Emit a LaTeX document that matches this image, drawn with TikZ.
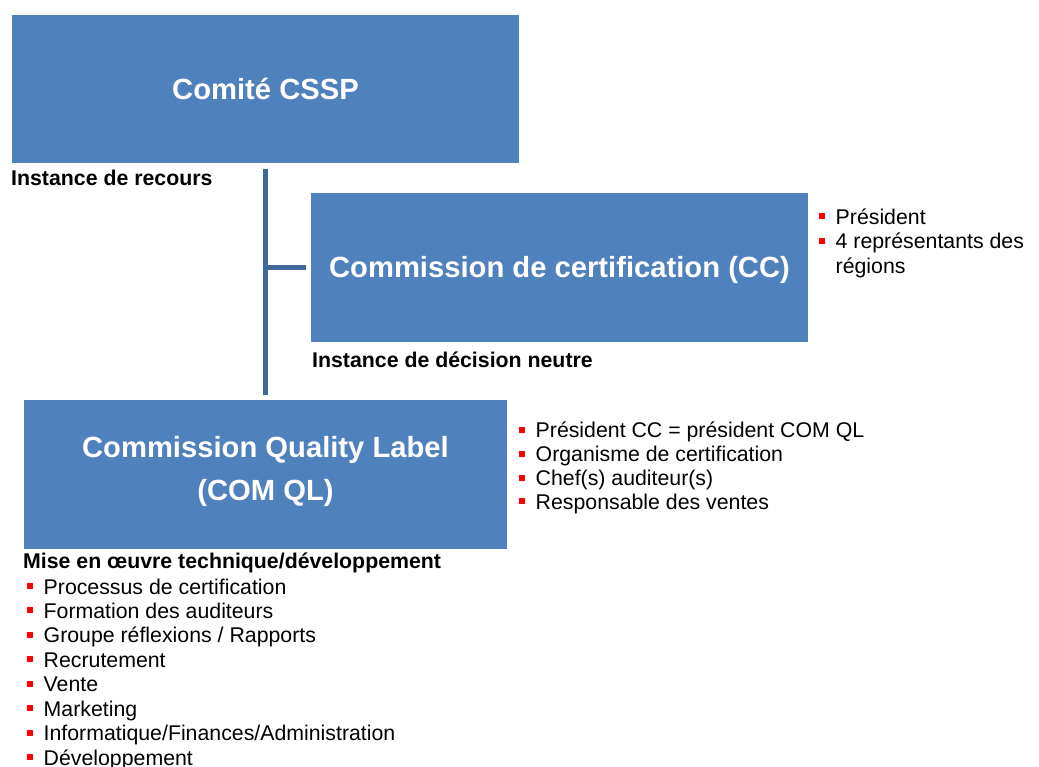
\documentclass[tikz,border=0pt]{standalone}
\usepackage{fontspec}
\setmainfont{Liberation Sans}
\definecolor{boxblue}{HTML}{4F81BD}
\definecolor{lineblue}{HTML}{41689C}
\definecolor{bulred}{HTML}{FF0000}
\newcommand\rbul{\makebox[16.5pt][l]{\textcolor{bulred}{\rule[5pt]{6pt}{6pt}}}}
\tikzset{
  box/.style={fill=boxblue, draw=none, text=white, inner sep=0pt,
    font=\fontsize{29.2}{43}\selectfont\bfseries, align=center},
  conn/.style={draw=lineblue, line width=4.6pt},
  lbl/.style={anchor=base west, inner sep=0pt, font=\fontsize{21.3}{24}\selectfont\bfseries},
  item/.style={anchor=base west, inner sep=0pt, font=\fontsize{21.3}{24}\selectfont}
}
\begin{document}
\begin{tikzpicture}[x=1pt,y=-1pt]
\useasboundingbox[fill=white] (0,0) rectangle (1039,767);
% boxes
\node[box, minimum width=507pt, minimum height=148pt, text height=21pt, text depth=0pt] (b1) at (265.5,89) {Comité CSSP};
\node[box, minimum width=497pt, minimum height=149pt, text height=21pt, text depth=0pt] (b2) at (559.5,267.5) {Commission de certification (CC)};
\node[box, minimum width=483pt, minimum height=149pt, text height=64pt, text depth=13pt] (b3) at (265.5,474.5) {Commission Quality Label\\(COM QL)};
% connectors
\draw[conn, shorten <=6pt, shorten >=5pt] (b1.south) -- (b3.north);
\coordinate (j) at (b2.west -| b1.south);
\draw[conn, shorten <=2pt, shorten >=5pt] (j) -- (b2.west);
% labels
\node[lbl] (l1) at (11,185.5) {Instance de recours};
\node[lbl] (l2) at (312,367) {Instance de décision neutre};
\node[lbl] (l3) at (23,568) {Mise en œuvre technique/développement};
% CC list
\node[item] (c1) at (819,224.5) {\rbul Président};
\node[item] (c2) at (819,249) {\rbul 4 représentants des};
\node[item] (c3) at (835.5,273.5) {régions};
% QL list
\node[item] (q1) at (519,437.7) {\rbul Président CC = président COM QL};
\node[item] (q2) at (519,461.6) {\rbul Organisme de certification};
\node[item] (q3) at (519,485.5) {\rbul Chef(s) auditeur(s)};
\node[item] (q4) at (519,509.4) {\rbul Responsable des ventes};
% bottom list
\foreach \t [count=\k from 0] in {Processus de certification, Formation des auditeurs, Groupe réflexions / Rapports, Recrutement, Vente, Marketing, Informatique/Finances/Administration, Développement}{
  \node[item] (m\k) at (27,594+24.45*\k) {\rbul \t};
}
\end{tikzpicture}
\end{document}
